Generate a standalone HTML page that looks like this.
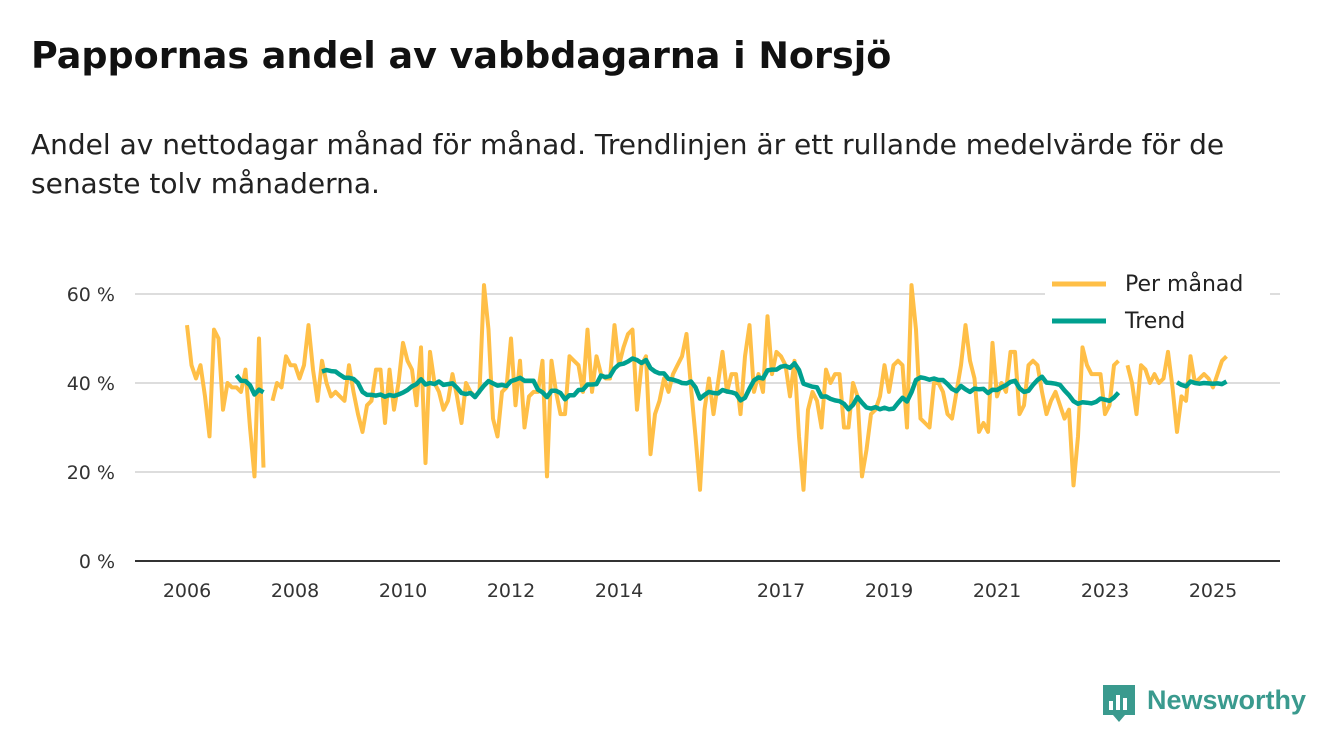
<!DOCTYPE html>
<html><head><meta charset="utf-8"><style>
body{margin:0;background:#fff;width:1340px;height:753px;overflow:hidden;font-family:"DejaVu Sans","Liberation Sans",sans-serif;}
.t{position:absolute;left:31px;top:34px;font-size:36.5px;font-weight:bold;color:#111;margin:0;white-space:nowrap}
.s{position:absolute;left:31px;top:125px;font-size:28px;line-height:39px;color:#222;width:1265px;margin:0}
</style></head><body>
<h1 class="t">Pappornas andel av vabbdagarna i Norsjö</h1>
<p class="s">Andel av nettodagar månad för månad. Trendlinjen är ett rullande medelvärde för de senaste tolv månaderna.</p>
<svg id="c" width="1340" height="753" style="position:absolute;left:0;top:0;font-family:'DejaVu Sans','Liberation Sans',sans-serif"></svg>
<script>
const monthly=[53,44,41,44,37,28,52,50,34,40,39,39, 38,43,30,19,50,21,null,36,40,39,46,44, 44,41,44,53,43,36,45,40,37,38,37,36,
44,38,33,29,35,36,43,43,31,43,34,40, 49,45,43,35,48,22,47,40,38,34,36,42, 37,31,40,38,37,38,62,52,32,28,38,39,
50,35,45,30,37,38,38,45,19,45,38,33, 33,46,45,44,38,52,38,46,42,41,41,53, 44,48,51,52,34,44,46,24,33,36,41,38,
42,44,46,51,39,28,16,34,41,33,40,47, 38,42,42,33,46,53,38,42,38,55,42,47, 46,44,37,45,28,16,34,38,36,30,43,40,
42,42,30,30,40,37,19,25,33,34,37,44, 38,44,45,44,30,62,52,32,31,30,40,40, 38,33,32,38,44,53,45,41,29,31,29,49,
37,40,38,47,47,33,35,44,45,44,38,33, 36,38,35,32,34,17,28,48,44,42,42,42, 33,35,44,45,null,44,40,33,44,43,40,42,
40,41,47,39,29,37,36,46,40,41,42,41, 39,42,45,46];
const yTicks=[0,20,40,60];
const xTickYears=[2006,2008,2010,2012,2014,2017,2019,2021,2023,2025];
const trend=monthly.map((v,i)=>{if(i<11)return null;const w=monthly.slice(i-11,i+1);if(w.some(x=>x==null))return null;return w.reduce((a,b)=>a+b,0)/12;});
const X=i=>187+i*4.5, Y=v=>561-v*4.45, XY=y=>187+(y-2006)*54;
const svg=document.getElementById('c');const NS='http://www.w3.org/2000/svg';
function mk(t,a,p){const e=document.createElementNS(NS,t);for(const k in a)e.setAttribute(k,a[k]);(p||svg).appendChild(e);return e;}
yTicks.forEach(v=>{
 if(v>0){const g=mk('line',{x1:135,x2:1280,y1:Y(v),y2:Y(v),stroke:'#ddd','stroke-width':2});
 
 }
 const t=mk('text',{x:115,y:Y(v)+7,'text-anchor':'end','font-size':19,fill:'#333'});t.textContent=v+' %';
 
 
});
const ax=mk('line',{x1:135,x2:1280,y1:561,y2:561,stroke:'#333','stroke-width':2});


xTickYears.forEach(yr=>{
 const t=mk('text',{x:XY(yr),y:597,'text-anchor':'middle','font-size':19,fill:'#333'});t.textContent=yr;
 
 
});
function path(arr){let d='',pen=false;arr.forEach((v,i)=>{if(v==null){pen=false;return;}d+=(pen?'L':'M')+X(i).toFixed(1)+','+Y(v).toFixed(1);pen=true;});return d;}
const l1=mk('path',{d:path(monthly),fill:'none',stroke:'#ffbf47','stroke-width':4,'stroke-linejoin':'round'});


const l2=mk('path',{d:path(trend),fill:'none',stroke:'#00a08f','stroke-width':4.5,'stroke-linejoin':'round'});


const lg=mk('g',{});


mk('rect',{x:1045,y:262,width:225,height:78,fill:'#fff'},lg);
mk('line',{x1:1052,x2:1106,y1:284,y2:284,stroke:'#ffbf47','stroke-width':5},lg);
mk('line',{x1:1052,x2:1106,y1:321,y2:321,stroke:'#00a08f','stroke-width':5},lg);
const a=mk('text',{x:1125,y:291,'font-size':22,fill:'#222'},lg);a.textContent='Per månad';
const b=mk('text',{x:1125,y:328,'font-size':22,fill:'#222'},lg);b.textContent='Trend';
const logo=mk('g',{});


mk('path',{d:'M1103,685h32v30h-10l-6,7l-6,-7h-10z',fill:'#3a9a8e'},logo);
mk('rect',{x:1109,y:701,width:4,height:9,fill:'#fff'},logo);
mk('rect',{x:1116,y:695,width:4,height:15,fill:'#fff'},logo);
mk('rect',{x:1123,y:698,width:4,height:12,fill:'#fff'},logo);
const lt=mk('text',{x:1147,y:709,'font-size':27,'font-weight':'bold',fill:'#3a9a8e','font-family':'Liberation Sans, sans-serif'},logo);lt.textContent='Newsworthy';
</script>
</body></html>
